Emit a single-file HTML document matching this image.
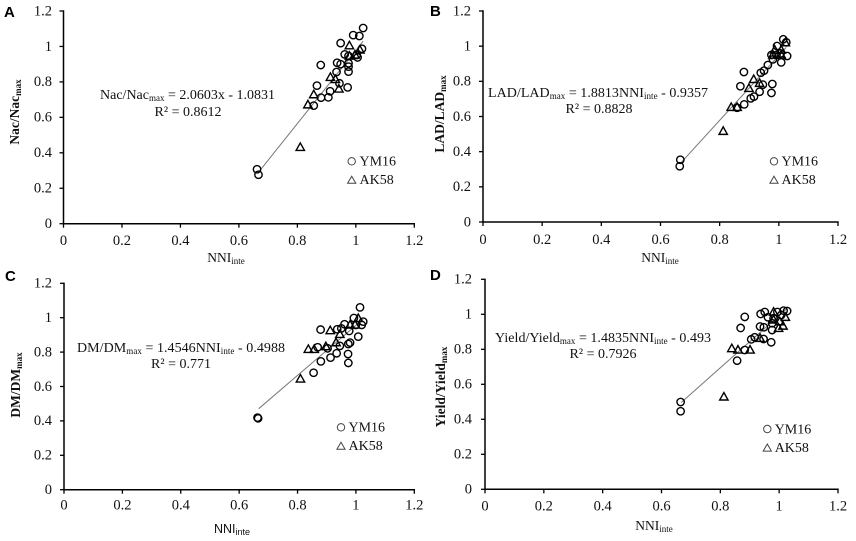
<!DOCTYPE html>
<html>
<head>
<meta charset="utf-8">
<title>NNI charts</title>
<style>
html,body{margin:0;padding:0;background:#fff;width:856px;height:541px;overflow:hidden}
svg{display:block;filter:blur(0.35px)}
text{font-family:"Liberation Serif",serif;fill:#111}
.tick{font-size:14.5px}
.eq{font-size:14px}
.leg{font-size:14px}
.ytitle{font-size:13.5px;font-weight:bold}
.xtitle{font-size:13.5px}
.sub{font-size:9px}
.letter{font-family:"Liberation Sans",sans-serif;font-weight:bold;font-size:15px;fill:#000}
</style>
</head>
<body>
<svg id="chart" xmlns="http://www.w3.org/2000/svg" width="856" height="541" viewBox="0 0 856 541">
  <rect x="0" y="0" width="856" height="541" fill="#fff"/>
  <text class="letter" x="4" y="17">A</text>
  <text class="letter" x="430" y="16">B</text>
  <text class="letter" x="5" y="281">C</text>
  <text class="letter" x="430" y="280">D</text>

  <text class="ytitle" transform="translate(19,112) rotate(-90)" text-anchor="middle">Nac/Nac<tspan class="sub" dy="2">max</tspan></text>
  <text class="ytitle" transform="translate(444,114) rotate(-90)" text-anchor="middle">LAD/LAD<tspan class="sub" dy="2">max</tspan></text>
  <text class="ytitle" transform="translate(20,385) rotate(-90)" text-anchor="middle">DM/DM<tspan class="sub" dy="2">max</tspan></text>
  <text class="ytitle" transform="translate(445,387) rotate(-90)" text-anchor="middle">Yield/Yield<tspan class="sub" dy="2">max</tspan></text>

  <text class="xtitle" x="226" y="262" text-anchor="middle">NNI<tspan class="sub" dy="2">inte</tspan></text>
  <text class="xtitle" x="660" y="262" text-anchor="middle">NNI<tspan class="sub" dy="2">inte</tspan></text>
  <text class="xtitle" x="232" y="533" text-anchor="middle" style="font-family:'Liberation Sans',sans-serif;font-size:12.5px">NNI<tspan class="sub" dy="2">inte</tspan></text>
  <text class="xtitle" x="654" y="530" text-anchor="middle">NNI<tspan class="sub" dy="2">inte</tspan></text>

  <text class="eq" x="100" y="99" textLength="175">Nac/Nac<tspan class="sub" dy="2">max</tspan><tspan dy="-2"> = 2.0603x - 1.0831</tspan></text>
  <text class="eq" x="188" y="116" text-anchor="middle">R² = 0.8612</text>
  <text class="eq" x="488" y="97" textLength="220">LAD/LAD<tspan class="sub" dy="2">max</tspan><tspan dy="-2"> = 1.8813NNI</tspan><tspan class="sub" dy="2">inte</tspan><tspan dy="-2"> - 0.9357</tspan></text>
  <text class="eq" x="599" y="113" text-anchor="middle">R² = 0.8828</text>
  <text class="eq" x="77" y="352" textLength="208">DM/DM<tspan class="sub" dy="2">max</tspan><tspan dy="-2"> = 1.4546NNI</tspan><tspan class="sub" dy="2">inte</tspan><tspan dy="-2"> - 0.4988</tspan></text>
  <text class="eq" x="181" y="368" text-anchor="middle">R² = 0.771</text>
  <text class="eq" x="495" y="342" textLength="216">Yield/Yield<tspan class="sub" dy="2">max</tspan><tspan dy="-2"> = 1.4835NNI</tspan><tspan class="sub" dy="2">inte</tspan><tspan dy="-2"> - 0.493</tspan></text>
  <text class="eq" x="603" y="358" text-anchor="middle">R² = 0.7926</text>

  <g>
    <circle cx="351.7" cy="161.3" r="3.7" fill="none" stroke="#444" stroke-width="1"/>
    <text class="leg" x="359.5" y="165.5">YM16</text>
    <path d="M351.7 176.2L355.8 183.3H347.6Z" fill="none" stroke="#444" stroke-width="1"/>
    <text class="leg" x="359.5" y="184">AK58</text>
  </g>
  <g>
    <circle cx="774" cy="161.3" r="3.7" fill="none" stroke="#444" stroke-width="1"/>
    <text class="leg" x="781.5" y="165.5">YM16</text>
    <path d="M774 176.2L778.1 183.3H769.9Z" fill="none" stroke="#444" stroke-width="1"/>
    <text class="leg" x="781.5" y="184">AK58</text>
  </g>
  <g>
    <circle cx="341" cy="427.3" r="3.7" fill="none" stroke="#444" stroke-width="1"/>
    <text class="leg" x="348.5" y="431.5">YM16</text>
    <path d="M341 442.2L345.1 449.3H336.9Z" fill="none" stroke="#444" stroke-width="1"/>
    <text class="leg" x="348.5" y="450">AK58</text>
  </g>
  <g>
    <circle cx="767.3" cy="429" r="3.7" fill="none" stroke="#444" stroke-width="1"/>
    <text class="leg" x="774.7" y="433.3">YM16</text>
    <path d="M767.3 444L771.4 451.1H763.2Z" fill="none" stroke="#444" stroke-width="1"/>
    <text class="leg" x="774.7" y="451.8">AK58</text>
  </g>
</svg>
<script>
var tickLabels = ['0', '0.2', '0.4', '0.6', '0.8', '1', '1.2'];
var tickValues = [0, 0.2, 0.4, 0.6, 0.8, 1, 1.2];

var ym16XA = [0.662,0.667,1.025,0.991,1.012,0.948,1.021,0.962,1.006,0.975,0.936,0.948,0.88,0.975,0.975,0.975,0.934,0.944,0.972,0.867,0.912,0.881,0.906,0.856,1.003];
var ym16YA = [0.307,0.276,1.104,1.064,1.059,1.019,0.987,0.955,0.938,0.946,0.908,0.9,0.895,0.905,0.886,0.858,0.856,0.792,0.769,0.779,0.747,0.711,0.713,0.666,0.952];
var ak58XA = [0.81,0.836,0.856,0.913,0.93,0.942,0.978,0.978,0.997,1.014];
var ak58YA = [0.431,0.671,0.728,0.826,0.814,0.76,1.004,0.946,0.952,0.98];
var trendXA = [0.667,1.025];
var trendYA = [0.29,1.03];

var ym16XB = [0.667,0.665,1.015,1.025,1.028,1.008,0.994,0.975,0.98,0.963,0.95,0.939,0.882,0.87,0.978,0.975,0.946,0.935,0.916,0.905,0.883,0.859,0.992,1.006];
var ym16YB = [0.354,0.317,1.039,1.022,0.944,0.908,1.001,0.95,0.925,0.893,0.861,0.849,0.853,0.772,0.785,0.734,0.781,0.741,0.713,0.703,0.669,0.65,0.95,0.959];
var ak58XB = [0.812,0.839,0.859,0.899,0.915,0.935,0.986,0.98,1.008,1.022,1.008];
var ak58YB = [0.516,0.652,0.652,0.76,0.811,0.789,0.978,0.95,0.95,1.02,0.978];
var trendXB = [0.667,1.025];
var trendYB = [0.333,0.993];

var ym16XC = [0.663,0.665,1.014,0.993,0.961,0.936,0.879,0.95,1.025,1.02,0.977,1.008,0.98,0.945,0.974,0.973,0.974,0.934,0.913,0.88,0.903,0.869,0.855,1.0];
var ym16YC = [0.419,0.415,1.06,0.998,0.962,0.933,0.931,0.938,0.977,0.958,0.923,0.89,0.855,0.836,0.847,0.789,0.737,0.793,0.768,0.746,0.822,0.828,0.68,0.958];
var ak58XC = [0.81,0.837,0.857,0.897,0.912,0.932,0.945,0.98,1.008,0.997];
var ak58YC = [0.644,0.816,0.816,0.832,0.925,0.855,0.903,0.958,0.996,0.958];
var trendXC = [0.667,1.025];
var trendYC = [0.471,0.992];

var ym16XD = [0.665,0.665,0.883,0.869,0.857,0.937,0.951,0.994,0.962,1.015,1.027,0.981,0.976,0.976,0.973,0.935,0.948,0.917,0.905,0.947,0.883,1.007];
var ym16YD = [0.499,0.446,0.985,0.922,0.735,1.002,1.013,1.013,0.983,1.021,1.019,0.977,0.949,0.91,0.84,0.93,0.926,0.869,0.857,0.859,0.796,0.996];
var ak58XD = [0.812,0.839,0.86,0.901,0.935,0.981,1.013,0.998,1.002,1.021,0.981];
var ak58YD = [0.528,0.804,0.796,0.796,0.863,1.013,0.933,0.92,0.958,0.983,0.968];
var trendXD = [0.667,1.025];
var trendYD = [0.496,1.03];

var NS = 'http://www.w3.org/2000/svg';
var svg = document.getElementById('chart');

function line(parent, x1, y1, x2, y2, color, width) {
  var l = document.createElementNS(NS, 'line');
  l.setAttribute('x1', x1);
  l.setAttribute('y1', y1);
  l.setAttribute('x2', x2);
  l.setAttribute('y2', y2);
  l.setAttribute('stroke', color);
  l.setAttribute('stroke-width', width);
  parent.appendChild(l);
  return l;
}

function drawPanel(id, g, ym16X, ym16Y, ak58X, ak58Y, trendX, trendY) {
  var sx = function (v) { return g.left + v / 1.2 * (g.right - g.left); };
  var sy = function (v) { return g.bottom - v / 1.2 * (g.bottom - g.top); };

  var root = document.createElementNS(NS, 'g');
  
  
  svg.appendChild(root);

  var xAxis = line(root, g.left - 0.7, g.bottom, g.right + 0.7, g.bottom, '#000', 1.5);
  
  
  var yAxis = line(root, g.left, g.top - 0.7, g.left, g.bottom + 0.7, '#000', 1.5);
  
  

  tickValues.forEach(function (v, i) {
    var tx = line(root, sx(v), g.bottom, sx(v), g.bottom + 4, '#000', 1.3);
    
    
    var ty = line(root, g.left - 4, sy(v), g.left, sy(v), '#000', 1.3);
    
    

    var lx = document.createElementNS(NS, 'text');
    lx.setAttribute('class', 'tick');
    lx.setAttribute('x', sx(v));
    lx.setAttribute('y', g.xTickBase);
    lx.setAttribute('text-anchor', 'middle');
    lx.textContent = tickLabels[i];
    
    
    root.appendChild(lx);

    var ly = document.createElementNS(NS, 'text');
    ly.setAttribute('class', 'tick');
    ly.setAttribute('x', g.yTickRight);
    ly.setAttribute('y', sy(v) + 4.3);
    ly.setAttribute('text-anchor', 'end');
    ly.textContent = tickLabels[i];
    
    
    root.appendChild(ly);
  });

  var trend = line(root, sx(trendX[0]), sy(trendY[0]), sx(trendX[1]), sy(trendY[1]), '#777', 1);
  
  

  ym16X.forEach(function (v, i) {
    var c = document.createElementNS(NS, 'circle');
    c.setAttribute('cx', sx(v));
    c.setAttribute('cy', sy(ym16Y[i]));
    c.setAttribute('r', 3.7);
    c.setAttribute('fill', 'none');
    c.setAttribute('stroke', '#000');
    c.setAttribute('stroke-width', 1.4);
    
    
    root.appendChild(c);
  });

  ak58X.forEach(function (v, i) {
    var x = sx(v), y = sy(ak58Y[i]);
    var p = document.createElementNS(NS, 'path');
    p.setAttribute('d', 'M' + x + ' ' + (y - 4.4) + 'L' + (x + 4.2) + ' ' + (y + 3.1) + 'H' + (x - 4.2) + 'Z');
    p.setAttribute('fill', 'none');
    p.setAttribute('stroke', '#000');
    p.setAttribute('stroke-width', 1.4);
    
    
    root.appendChild(p);
  });
}

drawPanel('a', {left: 63.5, right: 414.3, top: 11, bottom: 223.7, xTickBase: 245, yTickRight: 52}, ym16XA, ym16YA, ak58XA, ak58YA, trendXA, trendYA);
drawPanel('b', {left: 483, right: 838, top: 11, bottom: 222, xTickBase: 244, yTickRight: 471}, ym16XB, ym16YB, ak58XB, ak58YB, trendXB, trendYB);
drawPanel('c', {left: 64, right: 414.3, top: 283.3, bottom: 489.7, xTickBase: 509.5, yTickRight: 52}, ym16XC, ym16YC, ak58XC, ak58YC, trendXC, trendYC);
drawPanel('d', {left: 485, right: 838, top: 279.3, bottom: 489.3, xTickBase: 510.5, yTickRight: 472}, ym16XD, ym16YD, ak58XD, ak58YD, trendXD, trendYD);
</script>
</body>
</html>
